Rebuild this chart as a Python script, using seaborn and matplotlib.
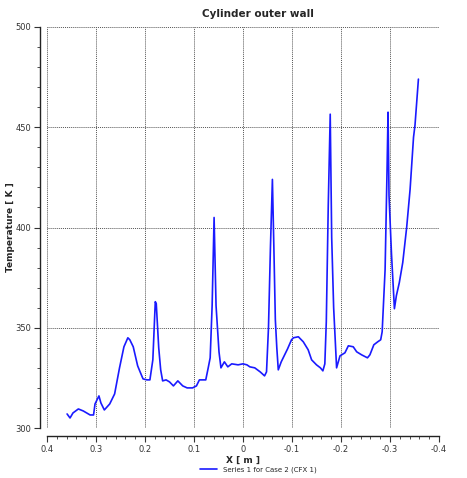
import numpy as np
import pandas as pd
import seaborn as sns
import matplotlib.pyplot as plt
from matplotlib.ticker import MultipleLocator

# Values (X [m] decreasing along the wall)
x_m = [0.359, 0.353, 0.347, 0.336, 0.326, 0.312, 0.305, 0.302, 0.294, 0.290,
       0.283, 0.272, 0.262, 0.252, 0.243, 0.235, 0.231, 0.224, 0.215, 0.210,
       0.204, 0.196, 0.190, 0.184, 0.179, 0.177, 0.172, 0.168, 0.164, 0.157,
       0.150, 0.142, 0.133, 0.123, 0.114, 0.103, 0.095, 0.089, 0.076, 0.071,
       0.067, 0.063, 0.059, 0.055, 0.049, 0.045, 0.038, 0.031, 0.023, 0.010,
       0.000, -0.008, -0.014, -0.024, -0.035, -0.044, -0.048, -0.052, -0.056, -0.060,
       -0.063, -0.066, -0.069, -0.072, -0.078, -0.084, -0.091, -0.099, -0.103, -0.113,
       -0.123, -0.133, -0.140, -0.150, -0.158, -0.163, -0.167, -0.170, -0.174, -0.178,
       -0.181, -0.185, -0.188, -0.191, -0.198, -0.208, -0.215, -0.225, -0.232, -0.242,
       -0.254, -0.259, -0.267, -0.275, -0.281, -0.284, -0.290, -0.294, -0.296, -0.298,
       -0.303, -0.309, -0.313, -0.319, -0.326, -0.334, -0.341, -0.348, -0.351, -0.358]
temp_k = [307, 305, 307.5, 309.5, 308.5, 306.5, 306.5, 312, 316, 312.5,
          309, 312, 317, 330, 340.5, 345, 344, 340.5, 331, 328,
          324.5, 324, 324, 334, 363, 362, 340, 329, 323.5, 324,
          323, 321, 323.5, 321, 320, 320, 321, 324, 324, 330,
          335, 361, 405, 361, 338, 330, 333, 330.5, 332, 331.5,
          332, 331.5, 330.5, 330, 328, 326, 328, 350, 390, 424,
          390, 354, 340, 329, 333, 336, 339.5, 344, 345, 345.5,
          343, 339, 334, 331.5, 330, 328.5, 332, 353, 411, 456.5,
          395, 360, 345, 330, 336, 337.5, 341, 340.5, 338, 336.5,
          335, 336.5, 341.5, 343, 344, 348, 379, 429, 457.5, 416,
          387, 359.5, 366, 372.5, 382.5, 400, 419, 445, 451, 474]

series_name = 'Series 1 for Case 2 (CFX 1)'
df = pd.DataFrame({'X': x_m, 'T': temp_k})

sns.set_theme(style='ticks')
plt.rcParams['font.family'] = ['DejaVu Sans']

fig = plt.figure(figsize=(4.67, 4.78), dpi=100)
ax = fig.add_axes([47 / 467, 1 - 428 / 478, 392 / 467, 401 / 478])

sns.lineplot(data=df, x='X', y='T', sort=False, estimator=None,
             color='#1a1aff', lw=1.2, ax=ax, label=series_name, legend=False)

ax.set_xlim(0.4, -0.4)
ax.set_ylim(300, 500)
ax.xaxis.set_major_locator(MultipleLocator(0.1))
ax.xaxis.set_minor_locator(MultipleLocator(0.02))
ax.yaxis.set_major_locator(MultipleLocator(50))
ax.yaxis.set_minor_locator(MultipleLocator(10))
ax.set_xticklabels([f'{v:g}' if abs(v) > 1e-9 else '0' for v in ax.get_xticks()])

ax.grid(True, which='major', color='#555555', linestyle=(0, (1, 1)), lw=0.7)
ax.tick_params(which='major', length=4.5, width=0.8, labelsize=6, colors='#333333', pad=2)
ax.tick_params(which='minor', length=2.5, width=0.6, colors='#333333')
sns.despine(ax=ax, offset={'left': 5, 'bottom': 6})
for s in ['left', 'bottom']:
    ax.spines[s].set_color('#222222')
    ax.spines[s].set_linewidth(1.0)

ax.set_xlabel('X [ m ]', fontsize=6.5, fontweight='bold', labelpad=1)
ax.set_ylabel('Temperature [ K ]', fontsize=6.5, fontweight='bold')
ax.yaxis.set_label_coords(-32 / 392, 0.5)
fig.text(258 / 467, 1 - 14 / 478, 'Cylinder outer wall', ha='center', va='center',
         fontsize=7.5, fontweight='bold')

handles, labels = ax.get_legend_handles_labels()
fig.legend(handles, labels, loc='center', bbox_to_anchor=(258 / 467, 1 - 470 / 478),
           frameon=False, fontsize=5, handlelength=2.5, handletextpad=0.8)

fig.savefig('out.png', dpi=100)
